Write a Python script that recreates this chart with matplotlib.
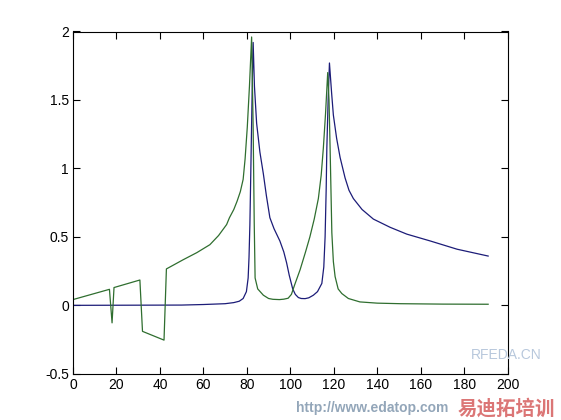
import matplotlib
matplotlib.use("Agg")
from matplotlib import pyplot as plt

plt.rcParams['font.family'] = ['Liberation Sans', 'Noto Sans CJK SC', 'DejaVu Sans']

# 蓝色曲线
blue_x = [0, 50, 60, 70, 74, 76.5, 78.3, 79.8, 80.6, 81.0, 81.4, 81.8, 82.2, 82.6, 82.9,
          83.5, 84.5, 86, 87.6, 89, 90.6, 92.5, 95.2, 97, 98.3, 99.5, 101.1, 102.3, 103.7,
          105, 106.8, 108.5, 110.6, 112.5, 114.5, 115.4, 116, 116.5, 116.8, 117.4, 118,
          119, 119.8, 121.3, 122.9, 125.2, 127, 129, 133, 138.2, 145.9, 153.6, 164.4,
          176.7, 191]
blue_y = [0, 0.002, 0.006, 0.012, 0.02, 0.03, 0.05, 0.1, 0.2, 0.35, 0.59, 0.95, 1.33, 1.7, 1.92,
          1.6, 1.33, 1.12, 0.96, 0.8, 0.64, 0.56, 0.47, 0.39, 0.31, 0.22, 0.12, 0.08, 0.057,
          0.05, 0.049, 0.055, 0.074, 0.1, 0.16, 0.28, 0.5, 0.85, 1.15, 1.5, 1.77,
          1.55, 1.39, 1.22, 1.08, 0.93, 0.84, 0.78, 0.70, 0.63, 0.57, 0.52, 0.47,
          0.41, 0.36]

# 绿色曲线
green_x = [0, 16.8, 18.0, 18.9, 30.8, 32.0, 41.9, 43.0, 50.7, 57, 63, 67, 70.7, 72, 74,
           75.5, 77, 78.3, 79.2, 80.2, 81.2, 82.2, 82.9, 83.4, 83.8, 85, 87.6, 90, 92, 95,
           97, 99, 100.5, 102, 104.5, 107, 109, 111, 112.9, 114.2, 115.2, 116.2, 117.2,
           117.8, 118.3, 119.1, 119.8, 120.6, 122, 123.7, 126.7, 132, 140, 150.6, 170, 191]
green_y = [0.042, 0.117, -0.128, 0.13, 0.185, -0.19, -0.254, 0.266, 0.333, 0.385, 0.443, 0.51,
           0.59, 0.64, 0.70, 0.76, 0.83, 0.92, 1.07, 1.3, 1.6, 1.96, 1.3, 0.6, 0.2, 0.12,
           0.074, 0.05, 0.044, 0.042, 0.045, 0.052, 0.08, 0.15, 0.26, 0.39, 0.5, 0.63, 0.78,
           0.95, 1.15, 1.4, 1.70, 1.5, 1.15, 0.53, 0.32, 0.21, 0.12, 0.086, 0.05, 0.025,
           0.016, 0.012, 0.009, 0.008]

x_ticks = [0, 20, 40, 60, 80, 100, 120, 140, 160, 180, 200]
y_ticks = [-0.5, 0, 0.5, 1, 1.5, 2]
y_labels = ['-0.5', '0', '0.5', '1', '1.5', '2']

fig = plt.figure(figsize=(5.61, 4.2), dpi=100)
ax = fig.add_axes([0.13, 0.11, 0.775, 0.815])
ax.plot(blue_x, blue_y, color='#1c1c78', lw=0.9)
ax.plot(green_x, green_y, color='#2f6e2f', lw=0.9)
ax.set_xlim(0, 200)
ax.set_ylim(-0.5, 2)
ax.set_xticks(x_ticks)
ax.set_yticks(y_ticks)
ax.set_yticklabels(y_labels)
ax.tick_params(direction='in', length=5, width=0.8, top=True, right=True,
               labelsize=10, pad=3)
for s in ax.spines.values():
    s.set_linewidth(0.8)

# 水印
fig.text(0.965, 0.155, 'RFEDA.CN', color='#b8c8dc', fontsize=10, ha='right', va='center')
fig.text(0.99, 0.003, '易迪拓培训', color='#d04848', alpha=0.75, fontsize=14,
         fontweight='bold', ha='right', va='bottom')
fig.text(0.8, 0.012, 'http://www.edatop.com', color='#7890a8', alpha=0.8, fontsize=10,
         fontweight='bold', ha='right', va='bottom')

fig.savefig('out.png', dpi=100)
